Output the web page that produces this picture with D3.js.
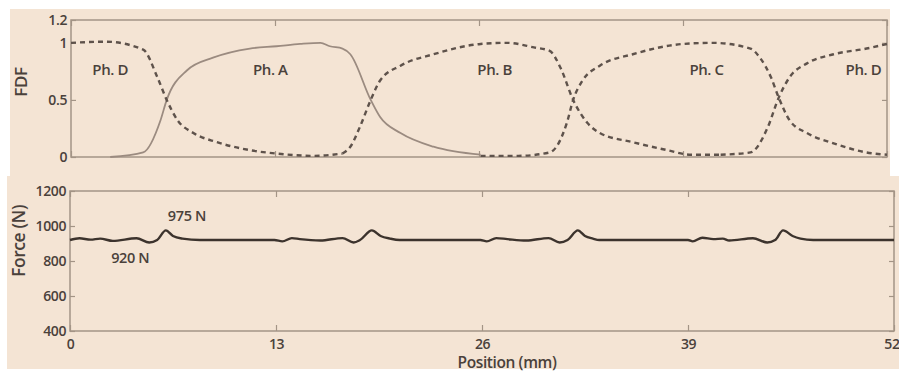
<!DOCTYPE html>
<html>
<head>
<meta charset="utf-8">
<script src="https://cdn.jsdelivr.net/npm/d3@7"></script>
<style>
  body { margin: 0; background: #fff; }
  svg text { font-family: "Open Sans", "Noto Sans", sans-serif; fill: #4a413b; font-weight: 600; letter-spacing: -0.4px; }
</style>
</head>
<body>
<div class="chart"></div>
<script>
// ---- data (position in mm) ----
const xTicks = [0, 13, 26, 39, 52];
const fdfTicks = [0, 0.5, 1, 1.2];
const forceTicks = [400, 600, 800, 1000, 1200];

const phaseLabels = ["Ph. D", "Ph. A", "Ph. B", "Ph. C", "Ph. D"];
const phaseLabelX = [2.5, 12.7, 27, 40.5, 50.5];

const phaseA = [[2.5,0],[4.6,0.04],[5.7,0.32],[6.1,0.5],[7.4,0.76],[9.05,0.87],[11.4,0.95],[13.1,0.97],[14.6,0.99],[15.9,1.0],[16.5,0.97],[17.3,0.95],[17.8,0.9],[19.1,0.5],[19.7,0.35],[21.0,0.21],[23.1,0.09],[26.1,0.02]];
const phaseD1 = [[0,1.0],[2.2,1.01],[4.6,0.94],[5.5,0.7],[6.1,0.5],[6.8,0.32],[7.8,0.21],[9.3,0.13],[11.4,0.06],[13.1,0.03],[15.5,0.01],[17.3,0.03]];
const phaseB = [[17.3,0.03],[17.8,0.09],[18.4,0.26],[19.1,0.5],[19.7,0.67],[21.0,0.8],[23.1,0.9],[26.1,0.99],[27.8,1.0],[29.5,0.96],[30.5,0.93],[31.2,0.78],[32.0,0.5],[32.9,0.3],[33.7,0.21],[35.8,0.13],[38.0,0.06],[39.5,0.02],[41.4,0.02]];
const phaseC = [[26.1,0.01],[28.5,0.01],[30.5,0.04],[31.6,0.3],[32.0,0.5],[32.6,0.67],[33.7,0.8],[35.8,0.9],[39.0,0.99],[40.9,1.0],[43.3,0.95],[43.9,0.87],[44.6,0.7],[45.1,0.52],[45.8,0.32],[46.9,0.21],[48.6,0.12],[50.7,0.04],[52,0.02]];
const phaseD2 = [[41.4,0.02],[43.3,0.04],[44.4,0.26],[45.1,0.52],[45.8,0.7],[46.9,0.82],[48.6,0.9],[50.7,0.95],[52,0.99]];

const force = [[0,920],[0.6,930],[1.3,922],[1.9,928],[2.7,915],[4.2,930],[5.0,906],[5.5,920],[6.05,975],[6.5,943],[7.1,928],[8.2,920],[12.9,920],[13.4,912],[14.0,931],[14.5,925],[15.8,917],[17.2,931],[17.9,906],[18.3,920],[19.05,975],[19.6,943],[20.2,928],[20.8,920],[25.9,920],[26.3,912],[26.9,931],[27.6,925],[28.8,917],[30.2,931],[30.9,906],[31.4,920],[32.05,975],[32.5,943],[33.0,928],[33.4,920],[39.0,920],[39.3,912],[39.9,933],[40.6,925],[41.2,928],[41.6,917],[43.1,930],[44.0,906],[44.5,920],[45.0,975],[45.6,943],[46.1,928],[46.9,920],[52,920]];

const peakNotes = [{ x: 6.05, v: 975, text: "975 N" }, { x: 5.0, v: 906, text: "920 N" }];

// ---- layout ----
const W = 899, H = 372;
const beige = "#f4e4d4", boxColor = "#a39486";
const topBox = { left: 71, right: 887, top: 20, bottom: 157 };
const botBox = { left: 70, right: 894, top: 191, bottom: 331 };

const svg = d3.select(".chart").append("svg")
  .attr("width", W).attr("height", H);

// paper background pieces
svg.append("rect").attr("x", 10).attr("y", 9).attr("width", 880).attr("height", 168).attr("fill", beige);
svg.append("rect").attr("x", 7).attr("y", 176).attr("width", 892).attr("height", 193).attr("fill", beige);

// scales
const xTop = d3.scaleLinear().domain([0, 52]).range([topBox.left, topBox.right]);
const yTop = d3.scaleLinear().domain([0, 1.2]).range([topBox.bottom, topBox.top]);
const xBot = d3.scaleLinear().domain([0, 52]).range([botBox.left, botBox.right]);
const yBot = d3.scaleLinear().domain([400, 1200]).range([botBox.bottom, botBox.top]);

// draws a matlab style box with inward ticks on all four sides
function drawBox(p, xs, ys, yTickVals, yFmt, showXLabels) {
  const g = svg.append("g");
  g.append("rect")
    .attr("x", p.left).attr("y", p.top)
    .attr("width", p.right - p.left).attr("height", p.bottom - p.top)
    .attr("fill", "none").attr("stroke", boxColor).attr("stroke-width", 1.5);

  // bottom / top x ticks
  g.append("g").attr("class", "xb").attr("transform", "translate(0," + p.bottom + ")")
    .call(d3.axisBottom(xs).tickValues(xTicks).tickSizeInner(-6).tickSizeOuter(0).tickPadding(8)
      .tickFormat(showXLabels ? d3.format("d") : ""));
  g.append("g").attr("transform", "translate(0," + p.top + ")")
    .call(d3.axisTop(xs).tickValues(xTicks).tickSizeInner(-6).tickSizeOuter(0).tickFormat(""));

  // left / right y ticks
  g.append("g").attr("transform", "translate(" + p.left + ",0)")
    .call(d3.axisLeft(ys).tickValues(yTickVals).tickSizeInner(-5).tickSizeOuter(0).tickPadding(4).tickFormat(yFmt));
  g.append("g").attr("transform", "translate(" + p.right + ",0)")
    .call(d3.axisRight(ys).tickValues(yTickVals).tickSizeInner(-5).tickSizeOuter(0).tickFormat(""));

  g.selectAll(".domain").remove();
  g.selectAll(".tick line").attr("stroke", boxColor).attr("stroke-width", 1.2);
  g.selectAll(".tick text").style("font-size", "14px").attr("fill", "#4a413b");
  return g;
}

drawBox(topBox, xTop, yTop, fdfTicks, d => d, false);
const botAxes = drawBox(botBox, xBot, yBot, forceTicks, d3.format("d"), true);
// last x label sits on the page edge, keep it inside
botAxes.selectAll(".xb .tick text").filter(d => d === 52)
  .attr("text-anchor", "end").attr("x", 5);

// ---- top panel curves ----
const lineTop = d3.line()
  .curve(d3.curveMonotoneX)
  .x(d => xTop(d[0]))
  .y(d => yTop(d[1]));

svg.append("path").datum(phaseA)
  .attr("d", lineTop).attr("fill", "none")
  .attr("stroke", "#9b8b80").attr("stroke-width", 1.8);

[phaseD1, phaseB, phaseC, phaseD2].forEach(s => {
  svg.append("path").datum(s)
    .attr("d", lineTop).attr("fill", "none")
    .attr("stroke", "#5e524b").attr("stroke-width", 2.4)
    .attr("stroke-dasharray", "5,4");
});

// phase labels
svg.selectAll(".phase").data(phaseLabels).enter().append("text")
  .attr("class", "phase")
  .attr("x", (d, i) => xTop(phaseLabelX[i]))
  .attr("y", 75)
  .attr("text-anchor", "middle")
  .style("font-size", "15px")
  .text(d => d);

// FDF label
svg.append("text")
  .attr("transform", "translate(27,82) rotate(-90)")
  .attr("text-anchor", "middle")
  .style("font-size", "17px")
  .text("FDF");

// ---- bottom panel ----
const lineBot = d3.line()
  .curve(d3.curveMonotoneX)
  .x(d => xBot(d[0]))
  .y(d => yBot(d[1]));

svg.append("path").datum(force)
  .attr("d", lineBot).attr("fill", "none")
  .attr("stroke", "#3c332d").attr("stroke-width", 2.4);

svg.append("text")
  .attr("x", xBot(peakNotes[0].x) + 2).attr("y", yBot(peakNotes[0].v) - 9)
  .style("font-size", "14.5px")
  .text(peakNotes[0].text);
svg.append("text")
  .attr("x", xBot(peakNotes[1].x) - 19).attr("y", yBot(peakNotes[1].v) + 21)
  .attr("text-anchor", "middle")
  .style("font-size", "14.5px")
  .text(peakNotes[1].text);

svg.append("text")
  .attr("transform", "translate(25,241) rotate(-90)")
  .attr("text-anchor", "middle")
  .style("font-size", "17.5px")
  .text("Force (N)");

svg.append("text")
  .attr("x", 507).attr("y", 368)
  .attr("text-anchor", "middle")
  .style("font-size", "15.5px")
  .text("Position (mm)");
</script>
</body>
</html>
